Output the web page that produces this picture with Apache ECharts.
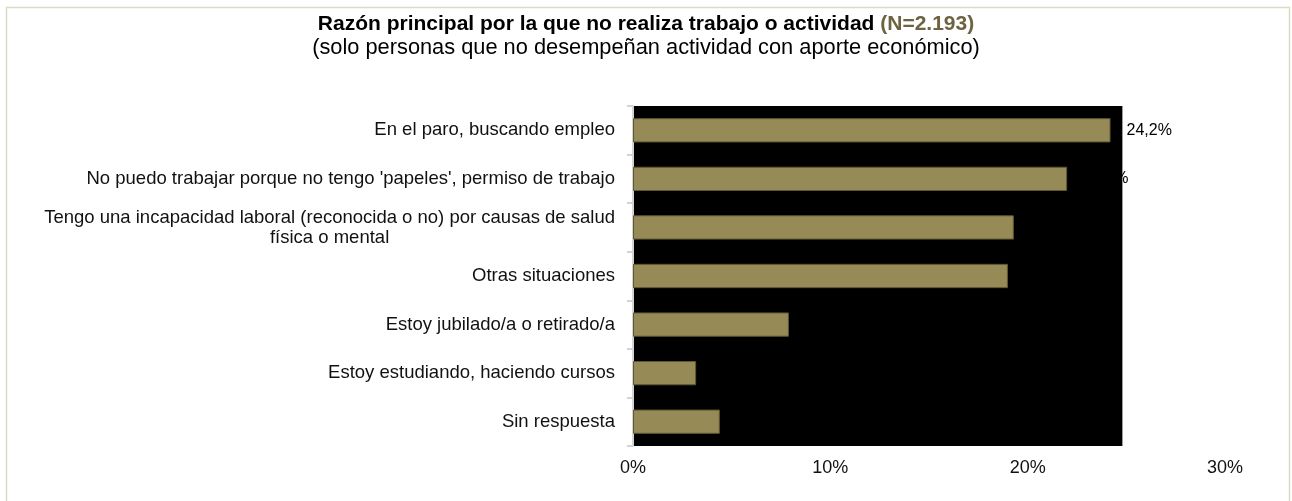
<!DOCTYPE html>
<html>
<head>
<meta charset="utf-8">
<script src="https://cdn.jsdelivr.net/npm/echarts@6/dist/echarts.min.js"></script>
<style>
html,body{margin:0;padding:0;background:#fff;}
#chart{width:1292px;height:501px;}
</style>
</head>
<body>
<div id="chart"></div>
<script>
const categories = [
  "En el paro, buscando empleo",
  "No puedo trabajar porque no tengo 'papeles', permiso de trabajo",
  "Tengo una incapacidad laboral (reconocida o no) por causas de salud\nfísica o mental",
  "Otras situaciones",
  "Estoy jubilado/a o retirado/a",
  "Estoy estudiando, haciendo cursos",
  "Sin respuesta"
];
const values = [24.2, 22.0, 19.3, 19.0, 7.9, 3.2, 4.4];
const xTicks = [0, 10, 20, 30];
const blackAreaEnd = 24.8;

const FONT = "'Liberation Sans', Arial, sans-serif";
const chart = echarts.init(document.getElementById('chart'), null, {renderer: 'canvas'});
chart.setOption({
  animation: false,
  backgroundColor: '#ffffff',
  textStyle: {fontFamily: FONT},
  graphic: [{
    type: 'rect', z: -10,
    shape: {x: 6.5, y: 7.5, width: 1283, height: 520},
    style: {fill: 'none', stroke: '#dcdcc6', lineWidth: 1.5}
  }],
  title: [{
    left: 'center', top: 8,
    text: '{b|Razón principal por la que no realiza trabajo o actividad }{n|(N=2.193)}\n{s|(solo personas que no desempeñan actividad con aporte económico)}',
    textStyle: {
      fontFamily: FONT, fontWeight: 'normal',
      rich: {
        b: {fontFamily: FONT, fontSize: 21, fontWeight: 'bold', color: '#000', lineHeight: 23},
        n: {fontFamily: FONT, fontSize: 21, fontWeight: 'bold', color: '#6e6240', lineHeight: 23},
        s: {fontFamily: FONT, fontSize: 21.8, fontWeight: 'normal', color: '#000', lineHeight: 23}
      }
    }
  }],
  grid: {left: 633, right: 67, top: 106, bottom: 55, containLabel: false},
  xAxis: {
    type: 'value', min: 0, max: 30, interval: 10,
    axisLine: {show: false}, axisTick: {show: false}, splitLine: {show: false},
    axisLabel: {
      margin: 13, fontSize: 18, color: '#111', fontFamily: FONT,
      formatter: v => xTicks.includes(v) ? v + '%' : ''
    }
  },
  yAxis: {
    type: 'category', inverse: true, data: categories,
    axisLine: {show: true, lineStyle: {color: '#d4d4d4', width: 2}},
    axisTick: {show: true, length: 6, lineStyle: {color: '#d4d4d4', width: 2}},
    axisLabel: {
      margin: 18, fontSize: 18.5, color: '#111', fontFamily: FONT,
      formatter: v => '{a|' + v.split('\n').join('}\n{a|') + '}',
      rich: {a: {align: 'center', fontSize: 18.5, fontFamily: FONT, color: '#111', lineHeight: 20}}
    }
  },
  series: [{
    type: 'bar', data: values, barWidth: '50%',
    itemStyle: {color: '#968b56', borderColor: '#5e5733', borderWidth: 1},
    label: {
      show: true, position: 'right', distance: 16, color: '#000', fontSize: 16, fontFamily: FONT,
      formatter: p => p.value.toFixed(1).replace('.', ',') + '%'
    },
    markArea: {
      silent: true, z: -1,
      itemStyle: {color: '#000000', opacity: 1},
      data: [[{xAxis: 0}, {xAxis: blackAreaEnd}]]
    }
  }]
});
</script>
</body>
</html>
